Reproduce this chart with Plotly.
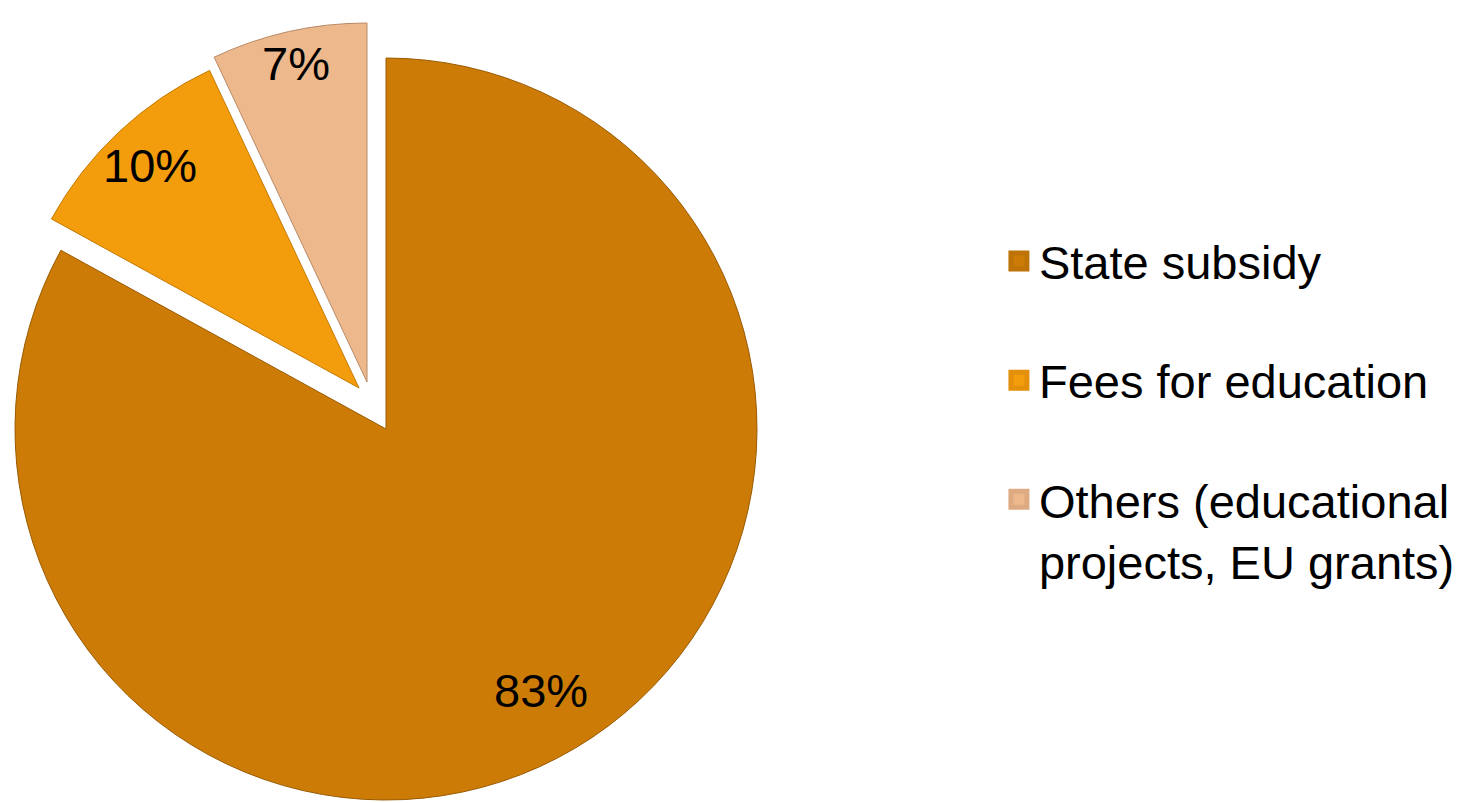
import math
import plotly.graph_objects as go

# ---- data ----
categories = ["State subsidy", "Fees for education", "Others (educational<br>projects, EU grants)"]
values = [83, 10, 7]
value_labels = ["83%", "10%", "7%"]
colors = ["#CC7C06", "#F39C0C", "#EDB88C"]
edge_colors = ["#9A5A02", "#C47A05", "#B88A66"]
legend_edge = ["#BE7306", "#E4900B", "#DDAA82"]

W, H = 1479, 803
FONT = "Liberation Sans, Arial, sans-serif"

# centre (px, figure coords) and radius (px) of each slice's own pie (exploded slices are offset)
geom = [(378, 421, 371), (351, 380, 351), (359, 374, 359)]
label_radius = [0.82, 0.87, 0.91]   # fraction of radius where the % labels sit


def domain(cx, cy, r):
    return dict(x=[max(0, (cx - r) / W), min(1, (cx + r) / W)],
                y=[max(0, (H - (cy + r)) / H), min(1, (H - (cy - r)) / H)])


fig = go.Figure()
total = sum(values)
cum = 0
for i, (cx, cy, r) in enumerate(geom):
    cols = ["rgba(0,0,0,0)"] * len(values)
    lcols = ["rgba(0,0,0,0)"] * len(values)
    cols[i] = colors[i]
    lcols[i] = edge_colors[i]
    fig.add_trace(go.Pie(
        labels=categories, values=values, sort=False, direction="clockwise", rotation=0,
        marker=dict(colors=cols, line=dict(color=lcols, width=1)),
        textinfo="none", domain=domain(cx, cy, r), showlegend=False, hoverinfo="skip",
    ))
    # percentage label at the slice's mid-angle
    theta = 2 * math.pi * (cum + values[i] / 2) / total
    cum += values[i]
    px = cx + label_radius[i] * r * math.sin(theta)
    py = cy - label_radius[i] * r * math.cos(theta)
    fig.add_annotation(x=px / W, y=1 - py / H, xref="paper", yref="paper",
                       text=value_labels[i], showarrow=False,
                       xanchor="center", yanchor="middle",
                       font=dict(family=FONT, size=47, color="black"))

# legend entries (empty scatter traces used only for the legend)
for i, cat in enumerate(categories):
    fig.add_trace(go.Scatter(
        x=[None], y=[None], mode="markers", name=cat,
        marker=dict(symbol="square", size=16, color=colors[i],
                    line=dict(color=legend_edge[i], width=5)),
        legendgroup=f"g{i}", showlegend=True, hoverinfo="skip",
    ))

fig.update_layout(
    width=W, height=H,
    margin=dict(l=0, r=0, t=0, b=0),
    paper_bgcolor="white", plot_bgcolor="rgba(0,0,0,0)",
    font=dict(family=FONT, size=47, color="black"),
    xaxis=dict(visible=False), yaxis=dict(visible=False),
    legend=dict(x=0.670, y=1 - 216 / H, xanchor="left", yanchor="top",
                font=dict(family=FONT, size=47, color="black"),
                tracegroupgap=55, valign="top", bgcolor="rgba(0,0,0,0)"),
)

fig.write_html("out.html")
